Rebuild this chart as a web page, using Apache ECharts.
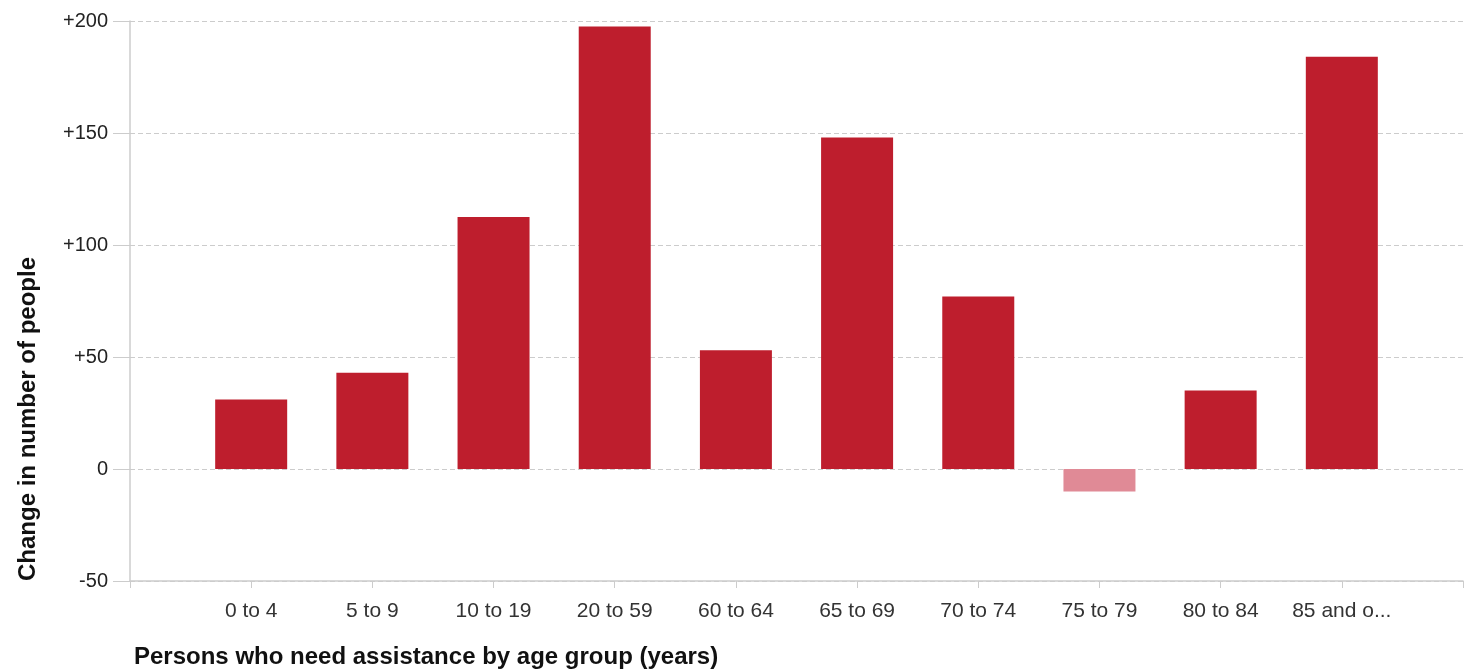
<!DOCTYPE html>
<html>
<head>
<meta charset="utf-8">
<script src="https://cdn.jsdelivr.net/npm/echarts@6/dist/echarts.min.js"></script>
<style>html,body{margin:0;padding:0;background:#fff}#c{width:1476px;height:670px}</style>
</head>
<body>
<div id="c"></div>
<script>
const categories = ['0 to 4','5 to 9','10 to 19','20 to 59','60 to 64','65 to 69','70 to 74','75 to 79','80 to 84','85 and o...'];
const values = [31, 43, 112.5, 197.5, 53, 148, 77, -10, 35, 184];
const yTicks = { min: -50, max: 200, interval: 50 };
const xTitle = 'Persons who need assistance by age group (years)';
const yTitle = 'Change in number of people';

const axisCats = [''].concat(categories, ['']);
const axisVals = [null].concat(values, [null]);
const font = 'Liberation Sans, Arial, sans-serif';

const chart = echarts.init(document.getElementById('c'));
chart.setOption({
  animation: false,
  grid: { left: 130, right: 13, top: 21, bottom: 89 },
  xAxis: {
    type: 'category',
    data: axisCats,
    boundaryGap: false,
    axisLine: { onZero: false, lineStyle: { color: '#cccccc', width: 1.5 } },
    axisTick: { show: true, length: 7, lineStyle: { color: '#cccccc' } },
    axisLabel: { color: '#333', fontSize: 21, fontFamily: font, margin: 20, interval: 0 },
    splitLine: { show: false }
  },
  yAxis: {
    type: 'value',
    min: yTicks.min, max: yTicks.max, interval: yTicks.interval,
    axisLine: { show: true, lineStyle: { color: '#cccccc', width: 1.5 } },
    axisTick: { show: true, length: 17, lineStyle: { color: '#cccccc' } },
    axisLabel: { color: '#222', fontSize: 20, fontFamily: font, margin: 22,
      formatter: v => v > 0 ? '+' + v : String(v) },
    splitLine: { lineStyle: { color: '#cccccc', type: [5, 3] } }
  },
  series: [{
    type: 'bar',
    data: axisVals,
    barWidth: 72,
    itemStyle: { color: p => (p.value < 0 ? '#E08A96' : '#BE1E2D') }
  }],
  graphic: [
    { type: 'text', left: 134, top: 645,
      style: { text: xTitle, font: 'bold 24px ' + font, fill: '#111' } },
    { type: 'text', x: 28, y: 419, rotation: Math.PI / 2,
      style: { text: yTitle, font: 'bold 24px ' + font, fill: '#111', align: 'center', verticalAlign: 'middle' } }
  ]
});
</script>
</body>
</html>
